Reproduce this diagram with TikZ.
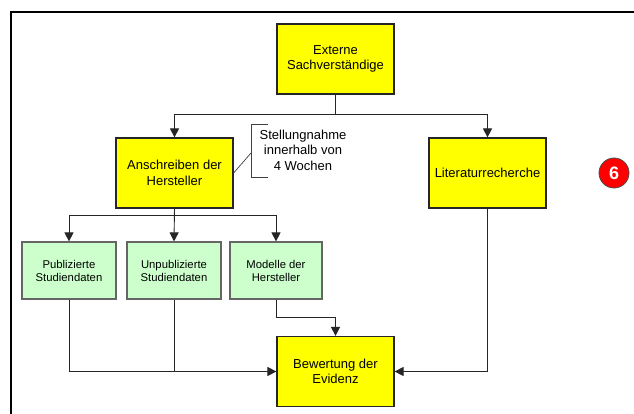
\documentclass[tikz,border=0pt]{standalone}
\usepackage{fontspec}
\setmainfont{Liberation Sans}
\usetikzlibrary{arrows.meta}
\definecolor{lgreen}{RGB}{204,255,204}
\definecolor{ylw}{RGB}{255,255,0}
\begin{document}
\begin{tikzpicture}[x=1pt,y=-1pt,
  ybox/.style={draw=black!85, line width=1.2pt, fill=ylw, minimum width=117pt, minimum height=70pt, align=center, font=\fontsize{13}{15.5}\selectfont, inner sep=0pt},
  gbox/.style={draw=black!60, line width=1.2pt, fill=lgreen, minimum width=94pt, minimum height=57pt, align=center, font=\fontsize{11.3}{13}\selectfont, inner sep=0pt},
  conn/.style={line width=0.9pt, draw=black!85},
  arr/.style={conn, -{Triangle[length=9pt,width=9pt]}},
  brk/.style={line width=0.7pt, draw=black!75},
  notetext/.style={align=center, font=\fontsize{13}{15.5}\selectfont, inner sep=0pt},
  badge/.style={circle, draw=black!70, line width=0.8pt, fill=red, minimum size=30pt, inner sep=0pt, text=white, font=\fontsize{18}{18}\selectfont\bfseries}]
\useasboundingbox (0,0) rectangle (634,414);
\fill[white] (0,0) rectangle (634,414);
% frame
\coordinate (fbl) at (11,415);
\coordinate (ftl) at (11,12);
\coordinate (ftr) at (635,12);
\draw[line width=2.2pt, line cap=rect] (fbl) -- (ftl) -- (ftr);

% nodes
\node[ybox] (ext) at (335.5,59) {Externe\\Sachverständige};
\node[ybox] (ans) at (174.5,173) {Anschreiben der\\Hersteller};
\node[ybox] (lit) at (487.5,173) {Literaturrecherche};
\node[gbox] (pub) at (69,270.5) {Publizierte\\Studiendaten};
\node[gbox] (unp) at (174,270.5) {Unpublizierte\\Studiendaten};
\node[gbox, minimum width=92pt] (mod) at (276,270.5) {Modelle der\\Hersteller};
\node[ybox] (bew) at (335.5,371.5) {Bewertung der\\Evidenz};
\node[notetext] (note) at (303,150) {Stellungnahme\\innerhalb von\\4 Wochen};
\node[badge] (six) at (614,173) {6};

% connectors
\draw[arr] (ext.south) -- ++(0,20) -| (ans.north);
\draw[arr] (ext.south) -- ++(0,20) -| (lit.north);
\draw[arr] (ans.south) -- ++(0,7) -| (pub.north);
\draw[arr] (ans.south) -- (unp.north);
\draw[arr] (ans.south) -- ++(0,7) -| (mod.north);
\draw[arr] (mod.south) -- ++(0,18) -| (bew.north);
\draw[arr] (pub.south) |- (bew.west);
\draw[conn] (unp.south) -- (unp.south |- bew.west);
\draw[arr] (lit.south) |- (bew.east);

% bracket of the note
\coordinate (bt) at (268,124);
\coordinate (btl) at (251,124);
\coordinate (bbl) at (251,177);
\coordinate (bb) at (268,177);
\coordinate (bm) at (251,153);
\draw[brk] (bt) -- (btl) -- (bbl) -- (bb);
\draw[brk] (ans.east) -- (bm);
\end{tikzpicture}
\end{document}
